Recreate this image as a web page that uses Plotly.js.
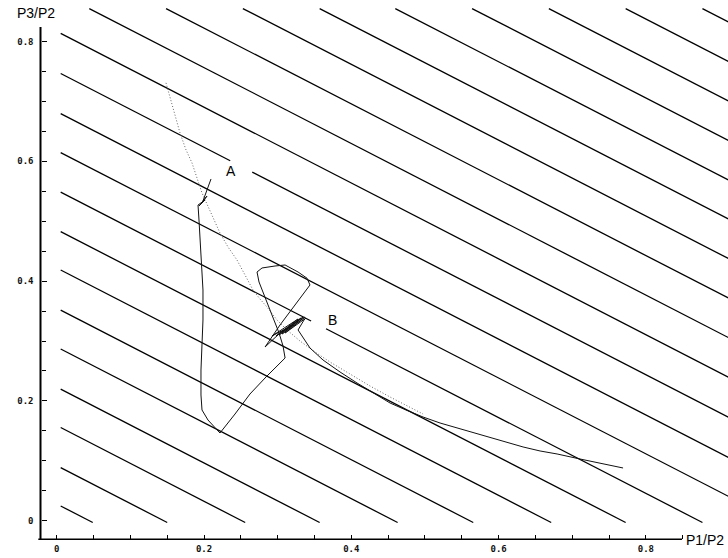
<!DOCTYPE html>
<html>
<head>
<meta charset="utf-8">
<script src="https://cdn.plot.ly/plotly-3.0.1.min.js"></script>
<style>html,body{margin:0;padding:0;background:#fff;}#chart{width:728px;height:558px;}</style>
</head>
<body>
<div id="chart"></div>
<script>
// ---- data ----
// Isolines P3 = c - SLOPE * P1 (c = P3 intercept at P1 = 0)
const ISO_C = [0.028, 0.092, 0.159, 0.223, 0.290, 0.355, 0.422, 0.486, 0.552, 0.618, 0.683,
               0.750, 0.817, 0.883, 0.949, 1.015, 1.081, 1.146, 1.212, 1.278, 1.344, 1.410];
const ISO_SLOPE = 0.633;
const ISO_P1_MIN = 0.0054, ISO_P1_MAX = 0.95, ISO_P3_MIN = -0.003, ISO_P3_MAX = 0.855;
// label gaps in isolines
const GAP_C = [0.750, 0.552];
const GAP_FROM = [0.2356, 0.3454];
const GAP_TO = [0.2655, 0.3657];
const LABEL_TEXT = ['A', 'B'];
const LABEL_P1 = [0.2369, 0.3738];
const LABEL_P3 = [0.5838, 0.3351];

// dotted curve
const DOT_P1 = [0.1484, 0.1579, 0.1674, 0.1756, 0.1837, 0.1905, 0.1973, 0.2095, 0.2217, 0.2326, 0.2448,
                0.2557, 0.2665, 0.2760, 0.2855, 0.2991, 0.3127, 0.3303, 0.3507, 0.3711, 0.3982, 0.4254,
                0.4526, 0.4797, 0.4974];
const DOT_P3 = [0.7309, 0.6891, 0.6474, 0.6190, 0.5973, 0.5721, 0.5471, 0.5137, 0.4803, 0.4569, 0.4352,
                0.4102, 0.3851, 0.3701, 0.3568, 0.3351, 0.3184, 0.3000, 0.2816, 0.2649, 0.2449, 0.2249,
                0.2065, 0.1898, 0.1781];

// trajectory (solid)
const TRAJ_P1 = [0.2095, 0.2027, 0.1986, 0.2041, 0.1932, 0.2014, 0.1919, 0.1932, 0.1946, 0.1973, 0.1986,
                 0.1986, 0.1973, 0.1959, 0.1959, 0.1973, 0.2054, 0.2149, 0.2217, 0.2421, 0.2624, 0.2842,
                 0.3101, 0.3073, 0.3019, 0.2923, 0.2829, 0.2747, 0.2720, 0.2788, 0.2964, 0.3101, 0.3277,
                 0.3399, 0.3439, 0.3236, 0.3032, 0.2829, 0.3032, 0.3209,
                 0.2923, 0.3277, 0.2978, 0.3317, 0.3019, 0.3345, 0.3060, 0.3371, 0.3101, 0.3385, 0.3142, 0.3358,
                 0.3277, 0.3439, 0.3616, 0.3847, 0.4078, 0.4295, 0.4526, 0.4743, 0.4974, 0.5205, 0.5436,
                 0.5666, 0.5884, 0.6115, 0.6332, 0.6563, 0.6794, 0.7106, 0.7377, 0.7690];
const TRAJ_P3 = [0.5705, 0.5487, 0.5337, 0.5420, 0.5254, 0.5354, 0.5270, 0.5020, 0.4686, 0.4269, 0.3851,
                 0.3351, 0.2933, 0.2516, 0.2098, 0.1848, 0.1681, 0.1548, 0.1464, 0.1781, 0.2115, 0.2399,
                 0.2716, 0.2917, 0.3134, 0.3434, 0.3735, 0.3985, 0.4152, 0.4219, 0.4252, 0.4269, 0.4152,
                 0.4048, 0.3935, 0.3601, 0.3267, 0.2900, 0.3134, 0.3267,
                 0.3084, 0.3367, 0.3084, 0.3384, 0.3100, 0.3400, 0.3117, 0.3400, 0.3134, 0.3384, 0.3167, 0.3351,
                 0.3184, 0.2883, 0.2683, 0.2483, 0.2299, 0.2132, 0.1965, 0.1848, 0.1731, 0.1631, 0.1548,
                 0.1464, 0.1398, 0.1314, 0.1231, 0.1164, 0.1114, 0.1030, 0.0963, 0.0880];

// axes
const X_TICKS = [0, 0.2, 0.4, 0.6, 0.8];
const X_TICKTEXT = ['0', '0.2', '0.4', '0.6', '0.8'];
const X_MINOR = [0.05, 0.1, 0.15, 0.25, 0.3, 0.35, 0.45, 0.5, 0.55, 0.65, 0.7, 0.75, 0.85];
const Y_TICKS = [0, 0.2, 0.4, 0.6, 0.8];
const Y_TICKTEXT = ['0', '0.2', '0.4', '0.6', '0.8'];
const Y_MINOR = [0.05, 0.1, 0.15, 0.25, 0.3, 0.35, 0.45, 0.5, 0.55, 0.65, 0.7, 0.75];
const X_TITLE = 'P1/P2', Y_TITLE = 'P3/P2';

// ---- build isolines ----
const isoX = [], isoY = [];
ISO_C.forEach(function (c) {
  let xs = ISO_P1_MIN, ys = c - ISO_SLOPE * xs;
  if (ys > ISO_P3_MAX) { ys = ISO_P3_MAX; xs = (c - ys) / ISO_SLOPE; }
  let xe = ISO_P1_MAX, ye = c - ISO_SLOPE * xe;
  if (ye < ISO_P3_MIN) { ye = ISO_P3_MIN; xe = (c - ye) / ISO_SLOPE; }
  if (xe <= xs) return;
  const g = GAP_C.indexOf(c);
  if (g >= 0) {
    isoX.push(xs, GAP_FROM[g], null, GAP_TO[g], xe, null);
    isoY.push(ys, c - ISO_SLOPE * GAP_FROM[g], null, c - ISO_SLOPE * GAP_TO[g], ye, null);
  } else {
    isoX.push(xs, xe, null);
    isoY.push(ys, ye, null);
  }
});

const traces = [
  { type: 'scatter', mode: 'lines', x: isoX, y: isoY, connectgaps: false,
    line: { color: '#000', width: 1.3 }, hoverinfo: 'skip', showlegend: false },
  { type: 'scatter', mode: 'lines', x: DOT_P1, y: DOT_P3,
    line: { color: '#666', width: 1, dash: '1px,2px' }, hoverinfo: 'skip', showlegend: false },
  { type: 'scatter', mode: 'lines', x: TRAJ_P1, y: TRAJ_P3,
    line: { color: '#111', width: 1 }, hoverinfo: 'skip', showlegend: false }
];

const W = 728, H = 558;
const PX0 = 56.7, PXS = 736.5, PY0 = 520.7, PYS = 599;
const xRange = [(0 - PX0) / PXS, (W - PX0) / PXS];
const yRange = [(PY0 - H) / PYS, PY0 / PYS];
const yAxisX = (40.5 - PX0) / PXS;
const xAxisY = (PY0 - 539.3) / PYS;

const tickFont = { family: 'DejaVu Sans Mono, monospace', size: 9, color: '#111', weight: 'bold' };
const titleFont = { family: 'Liberation Sans, Arial, sans-serif', size: 14, color: '#000' };

const annotations = LABEL_TEXT.map(function (t, i) {
  return { x: LABEL_P1[i], y: LABEL_P3[i], xref: 'x', yref: 'y', text: t, showarrow: false,
           xanchor: 'center', yanchor: 'middle', font: titleFont };
});
annotations.push({ x: 36 / W, y: 1 - 13.5 / H, xref: 'paper', yref: 'paper', text: Y_TITLE,
  showarrow: false, xanchor: 'center', yanchor: 'middle', font: titleFont });
annotations.push({ x: 705 / W, y: 1 - 540 / H, xref: 'paper', yref: 'paper', text: X_TITLE,
  showarrow: false, xanchor: 'center', yanchor: 'middle', font: titleFont });

const layout = {
  width: W, height: H,
  margin: { l: 0, r: 0, t: 0, b: 0, pad: 0 },
  paper_bgcolor: '#fff', plot_bgcolor: '#fff',
  showlegend: false, hovermode: false,
  xaxis: {
    range: xRange, anchor: 'free', position: (H - 539.3) / H,
    showgrid: false, zeroline: false, showline: false,
    tickmode: 'array', tickvals: X_TICKS, ticktext: X_TICKTEXT,
    ticks: 'inside', ticklen: 4, tickwidth: 1, tickcolor: '#000',
    ticklabelstandoff: 3,
    tickfont: tickFont,
    minor: { tickmode: 'array', tickvals: X_MINOR, ticks: 'inside', ticklen: 4, tickwidth: 1, tickcolor: '#000', showgrid: false }
  },
  yaxis: {
    range: yRange, anchor: 'free', position: 40.5 / W,
    showgrid: false, zeroline: false, showline: false,
    tickmode: 'array', tickvals: Y_TICKS, ticktext: Y_TICKTEXT,
    ticks: 'inside', ticklen: 5, tickwidth: 1, tickcolor: '#000',
    ticklabelstandoff: 7,
    tickfont: tickFont,
    minor: { tickmode: 'array', tickvals: Y_MINOR, ticks: 'inside', ticklen: 4, tickwidth: 1, tickcolor: '#000', showgrid: false }
  },
  shapes: [
    { type: 'line', xref: 'x', yref: 'y', x0: yAxisX, x1: yAxisX, y0: xAxisY - 0.001, y1: 0.8242,
      line: { color: '#000', width: 2 } },
    { type: 'line', xref: 'x', yref: 'y', x0: yAxisX - 0.003, x1: 0.849, y0: xAxisY, y1: xAxisY,
      line: { color: '#000', width: 1.5 } }
  ],
  annotations: annotations
};

Plotly.newPlot('chart', traces, layout, { staticPlot: true, displayModeBar: false });
</script>
</body>
</html>
